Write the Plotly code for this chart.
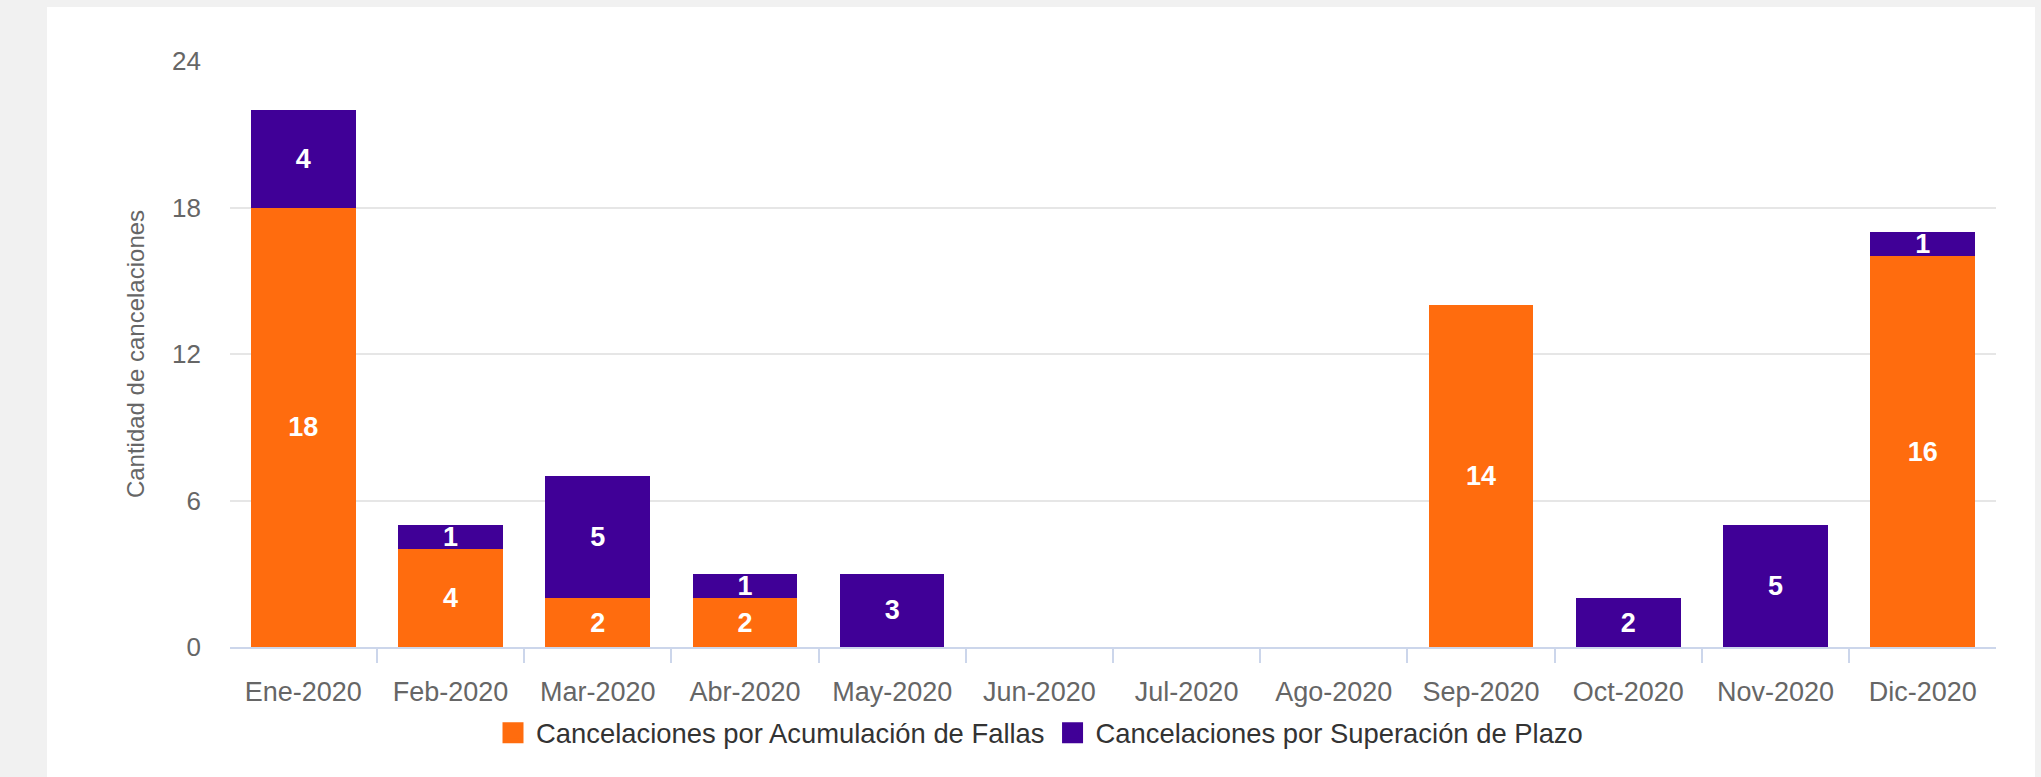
import plotly.graph_objects as go

months = ["Ene-2020", "Feb-2020", "Mar-2020", "Abr-2020", "May-2020", "Jun-2020",
          "Jul-2020", "Ago-2020", "Sep-2020", "Oct-2020", "Nov-2020", "Dic-2020"]
fallas = [18, 4, 2, 2, 0, 0, 0, 0, 14, 0, 0, 16]
plazo = [4, 1, 5, 1, 3, 0, 0, 0, 0, 2, 5, 1]

name_fallas = "Cancelaciones por Acumulación de Fallas"
name_plazo = "Cancelaciones por Superación de Plazo"
c_fallas = "#ff6c0e"
c_plazo = "#400097"
y_ticks = [0, 6, 12, 18, 24]

FONT = "Liberation Sans, Arial, sans-serif"

fig = go.Figure()
for name, vals, col in [(name_fallas, fallas, c_fallas), (name_plazo, plazo, c_plazo)]:
    fig.add_trace(go.Bar(
        x=months, y=vals, name=name, marker=dict(color=col, line=dict(width=0)),
        text=[str(v) if v else "" for v in vals],
        textposition="inside", insidetextanchor="middle", textangle=0,
        textfont=dict(color="white", size=27, family=FONT, weight="bold"),
        legendgroup=name, showlegend=False,
    ))
for name, col in [(name_fallas, c_fallas), (name_plazo, c_plazo)]:
    fig.add_trace(go.Scatter(
        x=[months[0]], y=[None], mode="markers", name=name, legendgroup=name,
        marker=dict(symbol="square", size=16, color=col, line=dict(color=col, width=5)),
        hoverinfo="skip",
    ))

W, H = 2041, 777
L, R, T, B = 230, 45, 61, 130
pw, ph = W - L - R, H - T - B

fig.update_layout(
    width=W, height=H,
    margin=dict(l=L, r=R, t=T, b=B),
    paper_bgcolor="#f1f1f1", plot_bgcolor="white",
    barmode="stack", bargap=0.29,
    font=dict(family=FONT, color="#666666", size=27),
    uniformtext=dict(minsize=27, mode="show"),
    showlegend=True,
    legend=dict(orientation="h", x=(490 - L) / pw, xanchor="left",
                y=(H - B - 733) / ph, yanchor="middle", itemwidth=36,
                font=dict(size=27.4, color="#333333", family=FONT),
                bgcolor="rgba(0,0,0,0)", itemclick=False, itemdoubleclick=False),
    shapes=[dict(type="rect", xref="paper", yref="paper", layer="below",
                 x0=(47 - L) / pw, x1=(2035 - L) / pw,
                 y0=(H - B - 790) / ph, y1=(H - B - 7) / ph,
                 fillcolor="white", line=dict(width=0))],
    xaxis=dict(type="category", range=[-0.498, len(months) - 1 + 0.498],
               showgrid=False, showline=True, linecolor="#ccd6eb",
               linewidth=2, ticks="outside", tickson="boundaries", ticklen=14,
               tickcolor="#ccd6eb", tickwidth=2, ticklabelstandoff=20,
               tickfont=dict(size=27, color="#666666")),
    yaxis=dict(range=[0, 24], tickvals=y_ticks, showgrid=True, gridcolor="#e6e6e6",
               gridwidth=1.5, zeroline=False, showline=False,
               ticklabelstandoff=28, tickfont=dict(size=26, color="#666666"),
               title=dict(text="Cantidad de cancelaciones", standoff=20,
                          font=dict(size=24, color="#666666"))),
)

fig.write_html("out.html", config={"displayModeBar": False},
               post_script="document.body.style.margin='0';document.body.style.overflow='hidden';")
